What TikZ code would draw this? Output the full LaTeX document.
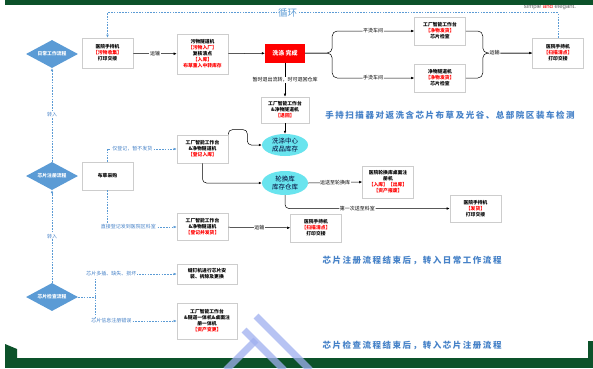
\documentclass[tikz,border=0pt]{standalone}
\usepackage{fontspec}
\setmainfont{Noto Sans CJK SC}
\newfontfamily\bluefnt[LetterSpace=18]{Noto Sans CJK SC}
\newfontfamily\latinfnt{Liberation Sans}
\usetikzlibrary{shapes.geometric,arrows.meta}
\definecolor{dgreen}{RGB}{12,82,42}
\definecolor{dblue}{RGB}{91,155,213}
\definecolor{tblue}{RGB}{70,130,200}
\definecolor{lblue}{RGB}{160,175,240}
\definecolor{cyanf}{RGB}{105,228,238}
\definecolor{bord}{RGB}{205,205,205}
\newcommand{\rd}[1]{{\color{red}#1}}
\tikzset{
  box/.style={draw=bord, fill=white, line width=0.6pt, minimum width=51pt, align=center,
    font=\fontsize{4.8}{6}\selectfont\bfseries, inner sep=1pt},
  diam/.style={diamond, aspect=1.9, fill=dblue, text=white, inner sep=0pt,
    minimum width=52pt, minimum height=28pt, font=\fontsize{4.8}{6}\selectfont\bfseries},
  ell/.style={ellipse, fill=cyanf, inner sep=0pt, align=center,
    font=\fontsize{6.5}{7.5}\selectfont, text=black!80!blue},
  conn/.style={line width=0.5pt, -{Latex[length=3pt,width=2.6pt]}},
  plain/.style={line width=0.5pt},
  dsh/.style={dashed, dash pattern=on 1.6pt off 1.2pt, draw=dblue, line width=0.5pt},
  darr/.style={dsh, -{Latex[length=3pt,width=2.6pt]}},
  lbl/.style={fill=white, inner sep=0.6pt, font=\fontsize{5}{6}\selectfont},
  blbl/.style={lbl, text=tblue},
  bigblue/.style={text=tblue, font=\bluefnt\fontsize{8.5}{9}\selectfont\bfseries, inner sep=0pt}
}
\begin{document}
\begin{tikzpicture}[x=1pt,y=-1pt]
\useasboundingbox (0,0) rectangle (593,368);
\fill[white] (0,0) rectangle (593,368);
% template remnants
\node[font=\latinfnt\fontsize{6}{7}\selectfont, text=black!60, inner sep=0pt] (tag) at (550,7)
  {simple \textcolor{red}{and} elegant.};
\fill[dgreen] (5,0) rectangle (593,5);
\fill[dgreen] (5,358) rectangle (593,368);
\fill[dgreen] (5,344) -- (17,349) -- (17,358) -- (5,358) -- cycle;
\fill[dgreen] (588,341) rectangle (593,358);
% stripes
\begin{scope}[line width=7pt, draw=lblue, opacity=0.75]
\draw (256,316) -- (310,370);
\draw (244,330) -- (284,370);
\draw (226,370) -- (256,340);
\end{scope}

% ---- row 1 : daily work
\node[diam] (d1) at (52,54) {日常工作流程};
\node[box, minimum height=30pt] (A) at (107.5,53) {医院手持机\\\rd{【污物收集】}\\打印交接};
\node[box, minimum height=40pt] (B) at (202.5,54) {污物隧道机\\\rd{【污物入厂】}\\复核清点\\\rd{【入库】}\\\rd{布草重入中转库存}};
\node[fill=red, text=white, minimum width=40pt, minimum height=19pt, inner sep=0pt,
  font=\fontsize{6}{7}\selectfont\bfseries] (R) at (285,53) {洗涤 完成};
\node[box, minimum height=28pt] (C) at (440,31) {工厂智能工作台\\\rd{【净物发货】}\\芯片检查};
\node[box, minimum height=28pt] (D) at (440,78) {净物隧道机\\\rd{【净物发货】}\\芯片检查};
\node[box, minimum height=30pt] (E) at (558,53) {医院手持机\\\rd{【扫描清点】}\\打印交接};
\node[box, minimum width=48pt, minimum height=26pt] (F) at (285,110) {工厂智能工作台\\\&净物隧道机\\\rd{【退回】}};
\node[ell, minimum width=46pt, minimum height=22pt] (G) at (285,145) {洗涤中心\\成品库存};

\draw[conn] (A) -- node[lbl]{运输} (B);
\draw[conn] (B) -- (R);
\draw[conn, rounded corners=5] (R.east) -- ++(27,0) |- node[lbl, pos=0.75]{平烫车间} (C.west);
\draw[conn, rounded corners=5] (R.east) -- ++(27,0) |- node[lbl, pos=0.75]{手烫车间} (D.west);
\draw[plain, rounded corners=5] (C.east) -- ++(17,0) |- (E.west);
\draw[conn, rounded corners=5] (D.east) -- ++(17,0) |- node[lbl, pos=0.62]{运输} (E.west);
\draw[darr] (E.north) -- ++(0,-25) -| node[pos=0.3, fill=white, inner sep=1pt, text=dblue,
  font=\fontsize{9.5}{10}\selectfont]{循环} (A.north);
\draw[conn] (R.south) -- node[lbl]{暂时退出流转，时可退回仓库} (F.north);
\draw[conn] (F.south) -- (G.north);

\node[bigblue] (t1) at (450,115) {手持扫描器对返洗含芯片布草及光谷、总部院区装车检测};

% ---- row 2 : chip registration
\node[diam] (d2) at (52,176) {芯片注册流程};
\node[box, minimum height=28pt] (H) at (107.5,176) {布草采购};
\node[box, minimum height=28pt] (I) at (202.5,149) {工厂智能工作台\\\&净物隧道机\\\rd{【登记入库】}};
\node[ell, minimum width=46pt, minimum height=24pt] (K) at (285,183) {轮换库\\库存仓库};
\node[box, minimum height=32pt] (L) at (388,182) {医院轮换库桌面注\\册机\\\rd{【入库】【出库】}\\\rd{【资产报废】}};
\node[box, minimum height=27pt] (M) at (475.5,208.5) {医院手持机\\\rd{【发货】}\\打印交接};
\node[box, minimum height=27pt] (J) at (202.5,227) {工厂智能工作台\\\&净物隧道机\\\rd{【登记并发货】}};
\node[box, minimum height=28pt] (N) at (316,228) {医院手持机\\\rd{【扫描清点】}\\打印交接};

\draw[darr] (d2.north) -- node[blbl]{转入} (d1.south);
\draw[darr] (H.north) |- node[blbl, pos=0.68]{仅登记，暂不发货} (I.west);
\draw[darr] (H.south) |- node[blbl, pos=0.65]{直接登记发到医院区科室} (J.west);
\draw[conn, rounded corners=4] (I.north east) -- ++(0,-5) -- ++(19,0) |- (G.west);
\draw[conn, rounded corners=4] (I.south) |- (K.west);
\draw[conn] (K.east) -- node[lbl]{运送至轮换库} (L.west);
\draw[conn, rounded corners=4] (K.south) |- node[lbl, pos=0.72]{第一次送至科室} (M.west);
\draw[conn] (J) -- node[lbl]{运输} (N);

\node[bigblue] (t2) at (412,260) {芯片注册流程结束后，转入日常工作流程};

% ---- row 3 : chip check
\node[diam] (d3) at (52,297) {芯片检查流程};
\node[box, minimum width=60pt, minimum height=20pt] (O) at (207,274) {缝钉机进行芯片安\\装、拆除及更换};
\node[box, minimum width=60pt, minimum height=36pt] (P) at (207,321) {工厂智能工作台\\\&隧道一体机\&桌面注\\册一体机\\\rd{【资产变更】}};
\coordinate (tr) at (95,297);
\draw[darr] (d3.north) -- node[blbl]{转入} (d2.south);
\draw[dsh] (d3.east) -- (tr);
\draw[darr] (tr) |- node[blbl, pos=0.6]{芯片多插、缺失、损坏} (O.west);
\draw[darr] (tr) |- node[blbl, pos=0.6]{芯片信息注册错误} (P.west);

\node[bigblue] (t3) at (412,345) {芯片检查流程结束后，转入芯片注册流程};
\end{tikzpicture}
\end{document}
